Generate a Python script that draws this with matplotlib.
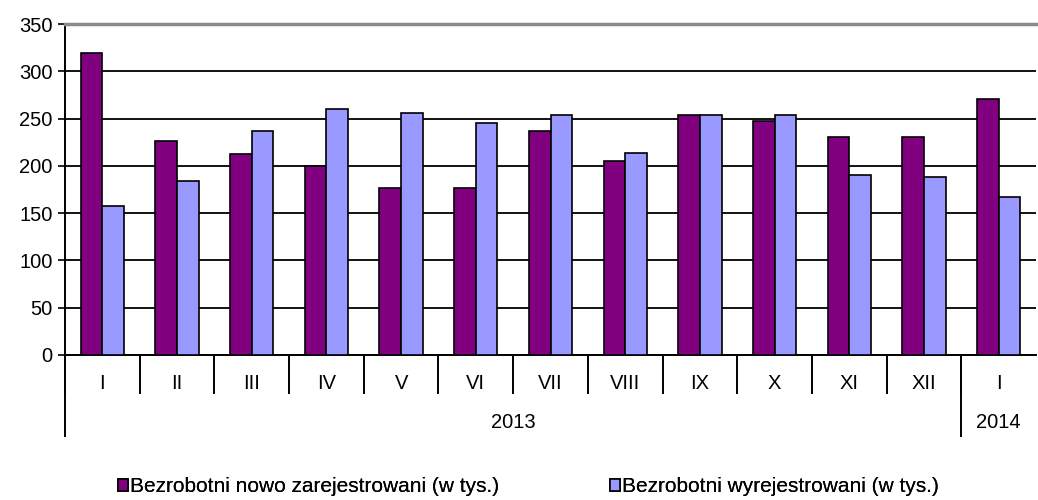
import matplotlib
matplotlib.use("Agg")
import matplotlib.pyplot as plt
import matplotlib.transforms as mtransforms
from matplotlib.patches import Patch

plt.rcParams['font.family'] = ['Liberation Sans', 'DejaVu Sans']

months = ["I", "II", "III", "IV", "V", "VI", "VII", "VIII", "IX", "X", "XI", "XII", "I"]
years = ["2013", "2014"]
year_spans = [(0, 11), (12, 12)]
new_registered = [319, 226, 213, 200, 177, 177, 237, 205, 254, 247, 230, 230, 271]
deregistered = [158, 184, 237, 260, 256, 245, 254, 214, 254, 254, 190, 188, 167]
series_labels = ["Bezrobotni nowo zarejestrowani (w tys.)", "Bezrobotni wyrejestrowani (w tys.)"]
colors = ["#800080", "#9999FF"]

FS = 14.5

fig = plt.figure(figsize=(10.38, 5.0), dpi=100)
ax = fig.add_axes([65/1038, 1-355/500, (1036-65)/1038, (355-24)/500])

n = len(months)
x = list(range(n))
w = 0.29
ax.bar([i - w/2 for i in x], new_registered, width=w, color=colors[0], edgecolor="black", linewidth=1.2, zorder=3)
ax.bar([i + w/2 for i in x], deregistered, width=w, color=colors[1], edgecolor="black", linewidth=1.2, zorder=3)

ax.set_xlim(-0.5, n - 0.5)
ax.set_ylim(0, 350)
ax.set_yticks(range(0, 351, 50))
ax.yaxis.grid(True, color="black", linewidth=1.3, zorder=0)
ax.set_axisbelow(True)

ax.spines["right"].set_visible(False)
ax.spines["top"].set_color("#8c8c8c")
ax.spines["top"].set_linewidth(2.5)
ax.spines["left"].set_linewidth(1.4)
ax.spines["bottom"].set_linewidth(1.4)

ax.tick_params(axis="y", direction="out", length=5, width=1.2, labelsize=FS, pad=4)

ax.set_xticks([i - 0.5 for i in range(n)])
ax.set_xticklabels([])
ax.tick_params(axis="x", which="major", direction="out", length=28, width=1.4)
ax.set_xticks(x, minor=True)
ax.set_xticklabels(months, minor=True)
ax.tick_params(axis="x", which="minor", length=0, labelsize=FS, pad=14)

trans = mtransforms.blended_transform_factory(ax.transData, ax.transAxes)
depth = (436 - 355) / 331
for (a, b), yr in zip(year_spans, years):
    ax.plot([a - 0.5, a - 0.5], [0, -depth], transform=trans, color="black", linewidth=1.4, clip_on=False)
    ax.text((a + b) / 2, -(423 - 355) / 331, yr, transform=trans, ha="center", va="center", fontsize=FS)

legend_x = [118 / 1038, 610 / 1038]
for lx, c, lab in zip(legend_x, colors, series_labels):
    h = Patch(facecolor=c, edgecolor="black", linewidth=1.2)
    leg = fig.legend([h], [lab], loc="center left", bbox_to_anchor=(lx, 0.026),
                     frameon=False, fontsize=15, handlelength=0.5, handleheight=0.55,
                     handletextpad=0.1, borderaxespad=0, borderpad=0)
    fig.add_artist(leg)

fig.savefig("out.png", dpi=100)
